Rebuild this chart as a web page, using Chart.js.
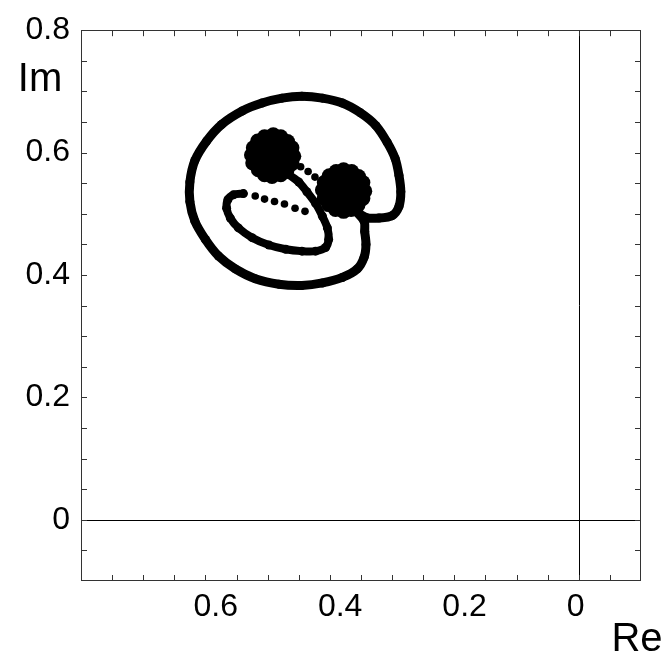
<!DOCTYPE html>
<html>
<head>
<meta charset="utf-8">
<script src="https://cdn.jsdelivr.net/npm/chart.js@4.4.1/dist/chart.umd.min.js"></script>
<style>
  body { margin: 0; background: #fff; }
  canvas { display: block; }
</style>
</head>
<body>
<canvas id="locus" width="666" height="661"></canvas>
<script>
// outer loop, starts and ends at the right blob
const outerRe = [0.360, 0.342, 0.321, 0.300, 0.289, 0.286, 0.289, 0.295, 0.308, 0.326, 0.351, 0.380, 0.412, 0.445, 0.477, 0.509, 0.541, 0.574, 0.598, 0.617, 0.625, 0.625, 0.617, 0.600, 0.579, 0.552, 0.520, 0.482, 0.445, 0.412, 0.380, 0.356, 0.345, 0.342, 0.344, 0.345, 0.362]
const outerIm = [0.505, 0.494, 0.493, 0.497, 0.512, 0.536, 0.563, 0.590, 0.617, 0.644, 0.665, 0.681, 0.689, 0.692, 0.689, 0.681, 0.668, 0.646, 0.619, 0.587, 0.552, 0.520, 0.488, 0.458, 0.431, 0.410, 0.394, 0.385, 0.383, 0.387, 0.396, 0.410, 0.429, 0.450, 0.471, 0.488, 0.508]

// inner loop leaving the left blob
const innerRe = [0.480, 0.466, 0.450, 0.437, 0.423, 0.412, 0.404, 0.402, 0.407, 0.423, 0.445, 0.471, 0.498, 0.525, 0.547, 0.560, 0.566, 0.564, 0.555, 0.539]
const innerIm = [0.575, 0.564, 0.552, 0.536, 0.517, 0.496, 0.477, 0.458, 0.445, 0.439, 0.439, 0.442, 0.449, 0.461, 0.477, 0.493, 0.509, 0.523, 0.531, 0.533]

// sparse dots (fast parts of the path)
const bridgeRe = [0.447, 0.435, 0.424]
const bridgeIm = [0.577, 0.569, 0.560]
const returnRe = [0.520, 0.505, 0.489, 0.473, 0.456, 0.440]
const returnIm = [0.529, 0.524, 0.520, 0.516, 0.509, 0.504]

// dense clusters where the path lingers
const blob1Re = [0.526, 0.523, 0.516, 0.505, 0.491, 0.479, 0.468, 0.461, 0.458, 0.461, 0.469, 0.479, 0.493, 0.505, 0.515, 0.524,
  0.508, 0.503, 0.492, 0.481, 0.476, 0.481, 0.492, 0.503,
  0.492]
const blob1Im = [0.596, 0.608, 0.619, 0.626, 0.629, 0.626, 0.618, 0.608, 0.594, 0.582, 0.571, 0.564, 0.561, 0.564, 0.572, 0.583,
  0.595, 0.606, 0.611, 0.606, 0.595, 0.584, 0.579, 0.584,
  0.595]
const blob2Re = [0.412, 0.409, 0.401, 0.390, 0.378, 0.365, 0.354, 0.347, 0.344, 0.347, 0.355, 0.366, 0.378, 0.391, 0.402, 0.409,
  0.394, 0.389, 0.378, 0.367, 0.362, 0.367, 0.378, 0.389,
  0.378]
const blob2Im = [0.539, 0.551, 0.562, 0.569, 0.572, 0.569, 0.561, 0.551, 0.537, 0.525, 0.514, 0.507, 0.504, 0.507, 0.515, 0.525,
  0.538, 0.549, 0.554, 0.549, 0.538, 0.527, 0.522, 0.527,
  0.538]

const tickMarks = [-0.05, 0, 0.05, 0.1, 0.15, 0.2, 0.25, 0.3, 0.35, 0.4, 0.45, 0.5, 0.55, 0.6, 0.65, 0.7, 0.75]
const xLabelValues = [0.6, 0.4, 0.2, 0]
const xLabels = ['0.6', '0.4', '0.2', '0']
const yLabelValues = [0, 0.2, 0.4, 0.6, 0.8]
const yLabels = ['0', '0.2', '0.4', '0.6', '0.8']

const pts = (re, im) => re.map((r, i) => ({x: r, y: im[i]}))
const FONT = '"Liberation Sans", Arial, Helvetica, sans-serif'

const pathSet = (re, im, width) => ({
  data: pts(re, im),
  showLine: true,
  borderColor: '#000',
  borderWidth: width,
  borderCapStyle: 'round',
  borderJoinStyle: 'round',
  tension: 0.3,
  pointRadius: 4.5,
  pointBackgroundColor: '#000',
  pointBorderWidth: 0
})
const dotSet = (re, im, r) => ({
  data: pts(re, im),
  showLine: false,
  pointRadius: r,
  pointBackgroundColor: '#000',
  pointBorderWidth: 0
})

const frame = {
  id: 'frame',
  afterDraw(chart) {
    const ctx = chart.ctx
    const a = chart.chartArea
    const xs = chart.scales.x
    const ys = chart.scales.y
    ctx.save()
    ctx.strokeStyle = '#333'
    ctx.lineWidth = 1
    ctx.strokeRect(Math.round(a.left) + 0.5, Math.round(a.top) + 0.5, Math.round(a.right - a.left) - 1, Math.round(a.bottom - a.top) - 1)
    // axes through the origin
    const x0 = Math.round(xs.getPixelForValue(0)) + 0.5
    const y0 = Math.round(ys.getPixelForValue(0)) + 0.5
    ctx.strokeStyle = '#000'
    ctx.beginPath()
    ctx.moveTo(x0, a.top); ctx.lineTo(x0, a.bottom)
    ctx.moveTo(a.left, y0); ctx.lineTo(a.right, y0)
    ctx.stroke()
    // inward tick marks on all four sides
    ctx.strokeStyle = '#333'
    ctx.beginPath()
    const len = 6
    tickMarks.forEach(v => {
      const px = Math.round(xs.getPixelForValue(v)) + 0.5
      ctx.moveTo(px, a.top); ctx.lineTo(px, a.top + len)
      ctx.moveTo(px, a.bottom); ctx.lineTo(px, a.bottom - len)
      const py = Math.round(ys.getPixelForValue(v)) + 0.5
      ctx.moveTo(a.left, py); ctx.lineTo(a.left + len, py)
      ctx.moveTo(a.right, py); ctx.lineTo(a.right - len, py)
    })
    ctx.stroke()
    // x tick labels
    ctx.fillStyle = '#000'
    ctx.font = '32px ' + FONT
    ctx.textAlign = 'left'
    ctx.textBaseline = 'middle'
    xLabelValues.forEach((v, i) => {
      ctx.fillText(xLabels[i], xs.getPixelForValue(v) - 12, a.bottom + 26)
    })
    // axis names
    ctx.font = '40px ' + FONT
    ctx.textAlign = 'center'
    ctx.fillText('Im', 40, 80)
    ctx.fillText('Re', 637, 640)
    ctx.restore()
  }
}

new Chart(document.getElementById('locus'), {
  type: 'scatter',
  data: {
    datasets: [
      pathSet(outerRe, outerIm, 9),
      pathSet(innerRe, innerIm, 8),
      dotSet(bridgeRe, bridgeIm, 3.8),
      dotSet(returnRe, returnIm, 3.8),
      dotSet(blob1Re, blob1Im, 7.5),
      dotSet(blob2Re, blob2Im, 7.5)
    ]
  },
  options: {
    responsive: false,
    animation: false,
    devicePixelRatio: 1,
    layout: {padding: {left: 0, right: 25, top: 23, bottom: 0}},
    plugins: {legend: {display: false}, tooltip: {enabled: false}},
    scales: {
      x: {
        type: 'linear',
        reverse: true,
        min: -0.1,
        max: 0.8,
        grid: {display: false, drawTicks: false},
        border: {display: false},
        ticks: {display: false},
        afterFit(scale) { scale.height = 80 }
      },
      y: {
        type: 'linear',
        min: -0.1,
        max: 0.8,
        grid: {display: false, drawTicks: false},
        border: {display: false},
        afterBuildTicks(scale) { scale.ticks = yLabelValues.map(v => ({value: v})) },
        ticks: {
          color: '#000',
          padding: 11,
          font: {size: 32, family: FONT},
          callback: (v) => yLabels[yLabelValues.indexOf(v)]
        },
        afterFit(scale) { scale.width = 81 }
      }
    }
  },
  plugins: [frame]
})
</script>
</body>
</html>
